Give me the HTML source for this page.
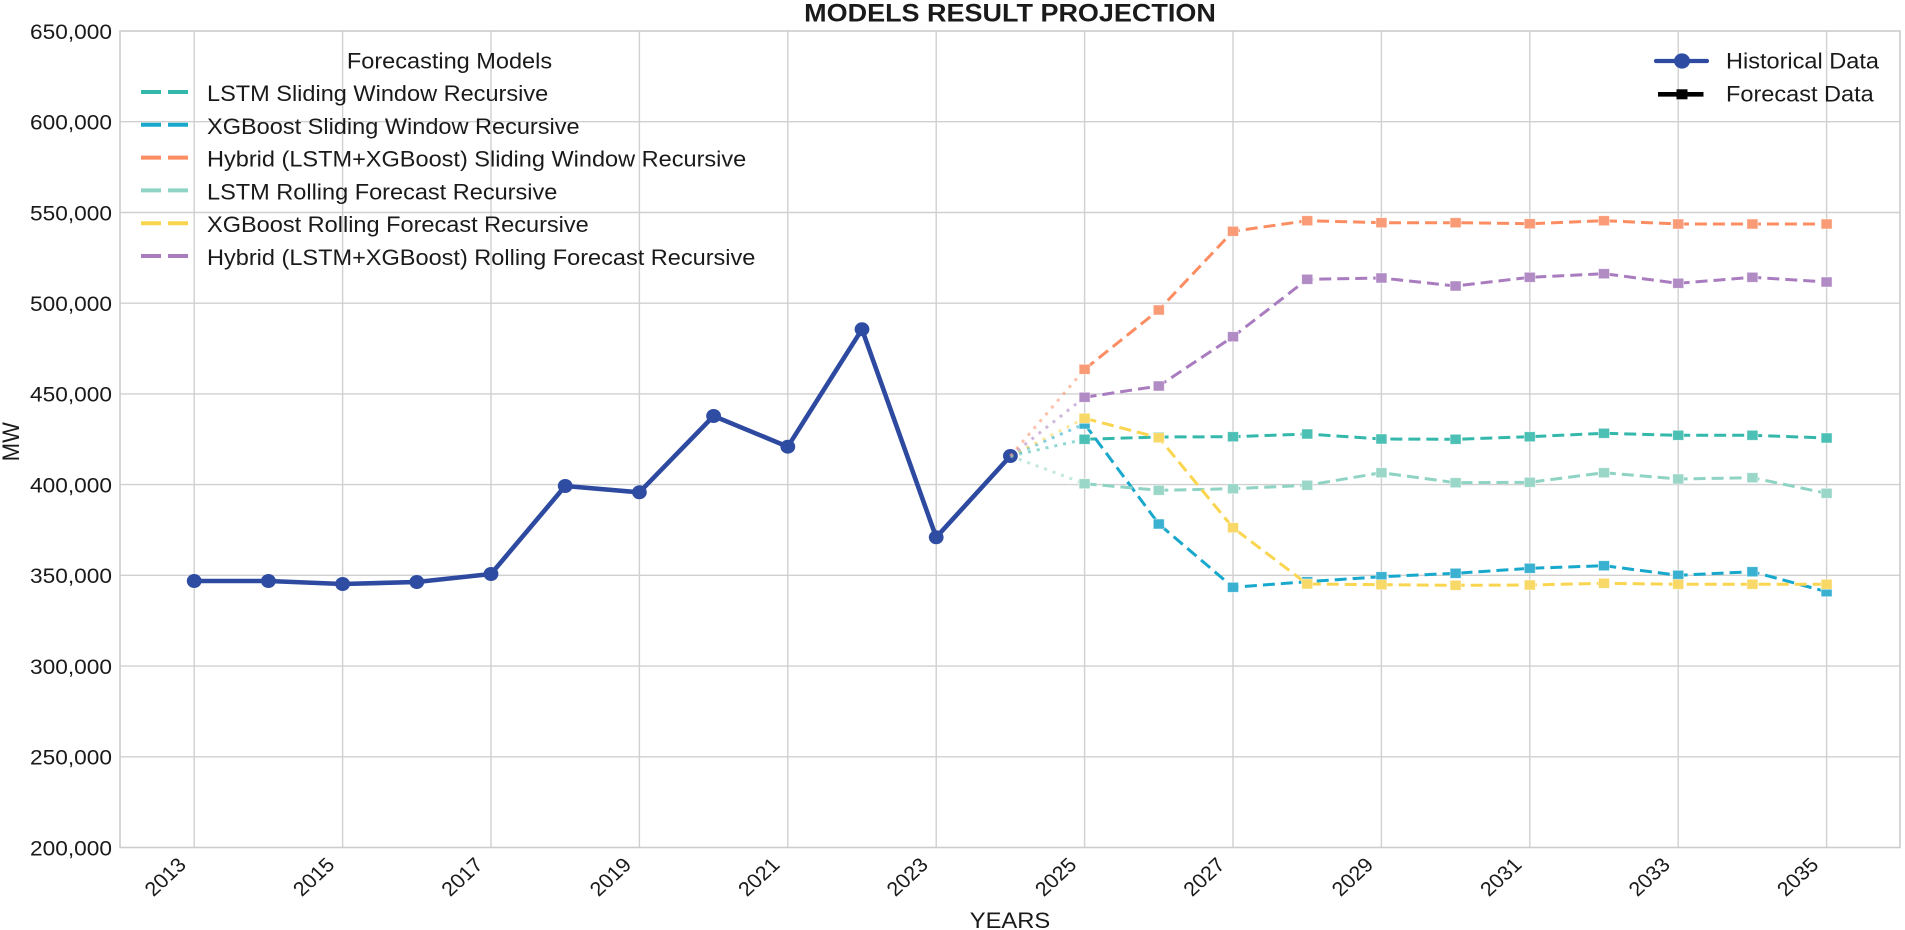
<!DOCTYPE html>
<html>
<head>
<meta charset="utf-8">
<style>
html,body{margin:0;padding:0;background:#fff;}
svg{display:block;}
text{font-family:"Liberation Sans",Arial,sans-serif;fill:#1a1a1a;}
</style>
</head>
<body>
<svg width="1905" height="930" viewBox="0 0 1905 930" xmlns="http://www.w3.org/2000/svg">
<defs>
<rect id="sq" x="-5.5" y="-5" width="11" height="10"/>
</defs>
<rect x="0" y="0" width="1905" height="930" fill="#fff"/>

<!-- grid -->
<g stroke="#d0d0d0" stroke-width="1.4">
<line x1="120" y1="756.8" x2="1900" y2="756.8"/>
<line x1="120" y1="666.1" x2="1900" y2="666.1"/>
<line x1="120" y1="575.3" x2="1900" y2="575.3"/>
<line x1="120" y1="484.6" x2="1900" y2="484.6"/>
<line x1="120" y1="393.9" x2="1900" y2="393.9"/>
<line x1="120" y1="303.2" x2="1900" y2="303.2"/>
<line x1="120" y1="212.5" x2="1900" y2="212.5"/>
<line x1="120" y1="121.7" x2="1900" y2="121.7"/>
<line x1="194.2" y1="31" x2="194.2" y2="847.5"/>
<line x1="342.6" y1="31" x2="342.6" y2="847.5"/>
<line x1="491" y1="31" x2="491" y2="847.5"/>
<line x1="639.4" y1="31" x2="639.4" y2="847.5"/>
<line x1="787.8" y1="31" x2="787.8" y2="847.5"/>
<line x1="936.2" y1="31" x2="936.2" y2="847.5"/>
<line x1="1084.6" y1="31" x2="1084.6" y2="847.5"/>
<line x1="1233" y1="31" x2="1233" y2="847.5"/>
<line x1="1381.4" y1="31" x2="1381.4" y2="847.5"/>
<line x1="1529.8" y1="31" x2="1529.8" y2="847.5"/>
<line x1="1678.2" y1="31" x2="1678.2" y2="847.5"/>
<line x1="1826.6" y1="31" x2="1826.6" y2="847.5"/>
</g>
<rect x="120" y="31" width="1780" height="816.5" fill="none" stroke="#cccccc" stroke-width="1.6"/>

<!-- y tick labels -->
<g font-size="21" text-anchor="end">
<text transform="translate(112,855.3) scale(1.08,1)">200,000</text>
<text transform="translate(112,764.6) scale(1.08,1)">250,000</text>
<text transform="translate(112,673.9) scale(1.08,1)">300,000</text>
<text transform="translate(112,583.1) scale(1.08,1)">350,000</text>
<text transform="translate(112,492.4) scale(1.08,1)">400,000</text>
<text transform="translate(112,401.7) scale(1.08,1)">450,000</text>
<text transform="translate(112,311) scale(1.08,1)">500,000</text>
<text transform="translate(112,220.3) scale(1.08,1)">550,000</text>
<text transform="translate(112,129.5) scale(1.08,1)">600,000</text>
<text transform="translate(112,38.8) scale(1.08,1)">650,000</text>
</g>

<!-- x tick labels -->
<g font-size="20" text-anchor="end">
<text transform="translate(187.4,866) scale(1.08,1) rotate(-45)">2013</text>
<text transform="translate(335.8,866) scale(1.08,1) rotate(-45)">2015</text>
<text transform="translate(484.2,866) scale(1.08,1) rotate(-45)">2017</text>
<text transform="translate(632.6,866) scale(1.08,1) rotate(-45)">2019</text>
<text transform="translate(781,866) scale(1.08,1) rotate(-45)">2021</text>
<text transform="translate(929.4,866) scale(1.08,1) rotate(-45)">2023</text>
<text transform="translate(1077.8,866) scale(1.08,1) rotate(-45)">2025</text>
<text transform="translate(1226.2,866) scale(1.08,1) rotate(-45)">2027</text>
<text transform="translate(1374.6,866) scale(1.08,1) rotate(-45)">2029</text>
<text transform="translate(1523,866) scale(1.08,1) rotate(-45)">2031</text>
<text transform="translate(1671.4,866) scale(1.08,1) rotate(-45)">2033</text>
<text transform="translate(1819.8,866) scale(1.08,1) rotate(-45)">2035</text>
</g>

<!-- axis labels and title -->
<text font-size="22" text-anchor="middle" transform="translate(1010,928) scale(1.08,1)">YEARS</text>
<text font-size="22" text-anchor="middle" transform="translate(19,441.7) scale(1.08,1) rotate(-90)">MW</text>
<text font-size="25" font-weight="bold" text-anchor="middle" transform="translate(1010,21.5) scale(1.08,1)">MODELS RESULT PROJECTION</text>

<!-- historical -->
<polyline fill="none" stroke="#2d4aa0" stroke-width="4.6" stroke-linejoin="round" points="194.2,581 268.4,581 342.6,584 416.8,582 491,574 565.2,486 639.4,492.3 713.6,416 787.8,446.7 862,329.3 936.2,537.3 1010.4,456"/>
<g fill="#2f4ca3">
<ellipse cx="194.2" cy="581" rx="7.4" ry="7"/>
<ellipse cx="268.4" cy="581" rx="7.4" ry="7"/>
<ellipse cx="342.6" cy="584" rx="7.4" ry="7"/>
<ellipse cx="416.8" cy="582" rx="7.4" ry="7"/>
<ellipse cx="491" cy="574" rx="7.4" ry="7"/>
<ellipse cx="565.2" cy="486" rx="7.4" ry="7"/>
<ellipse cx="639.4" cy="492.3" rx="7.4" ry="7"/>
<ellipse cx="713.6" cy="416" rx="7.4" ry="7"/>
<ellipse cx="787.8" cy="446.7" rx="7.4" ry="7"/>
<ellipse cx="862" cy="329.3" rx="7.4" ry="7"/>
<ellipse cx="936.2" cy="537.3" rx="7.4" ry="7"/>
<ellipse cx="1010.4" cy="456" rx="7.4" ry="7"/>
</g>

<!-- connectors -->
<g stroke-opacity="0.55" stroke-width="3" stroke-dasharray="3 6" fill="none">
<line x1="1010.4" y1="456" x2="1084.6" y2="439.3" stroke="#35b8ac"/>
<line x1="1010.4" y1="456" x2="1084.6" y2="424" stroke="#17a8cc"/>
<line x1="1010.4" y1="456" x2="1084.6" y2="369.3" stroke="#fc8d62"/>
<line x1="1010.4" y1="456" x2="1084.6" y2="483.7" stroke="#8ed3c3"/>
<line x1="1010.4" y1="456" x2="1084.6" y2="418.3" stroke="#fad54f"/>
<line x1="1010.4" y1="456" x2="1084.6" y2="397.3" stroke="#a97cbf"/>
</g>

<!-- LSTM Sliding Window (teal) -->
<polyline fill="none" stroke="#35b8ac" stroke-width="3" stroke-dasharray="12 6" points="1084.6,439.3 1158.8,437 1233,436.7 1307.2,434 1381.4,439 1455.6,439.3 1529.8,436.7 1604,433.3 1678.2,435.3 1752.4,435.3 1826.6,438"/>
<g fill="#4dc0b5" stroke="#fff" stroke-width="0.8" stroke-opacity="0.6">
<use href="#sq" x="1084.6" y="439.3"/><use href="#sq" x="1158.8" y="437"/><use href="#sq" x="1233" y="436.7"/><use href="#sq" x="1307.2" y="434"/><use href="#sq" x="1381.4" y="439"/><use href="#sq" x="1455.6" y="439.3"/><use href="#sq" x="1529.8" y="436.7"/><use href="#sq" x="1604" y="433.3"/><use href="#sq" x="1678.2" y="435.3"/><use href="#sq" x="1752.4" y="435.3"/><use href="#sq" x="1826.6" y="438"/>
</g>

<!-- XGBoost Sliding Window (blue) -->
<polyline fill="none" stroke="#17a8cc" stroke-width="3" stroke-dasharray="12 6" points="1084.6,424 1158.8,524 1233,587.3 1307.2,581.7 1381.4,576.7 1455.6,573.3 1529.8,568.3 1604,565.7 1678.2,575.3 1752.4,571.7 1826.6,591.7"/>
<g fill="#3bb1d2" stroke="#fff" stroke-width="0.8" stroke-opacity="0.6">
<use href="#sq" x="1084.6" y="424"/><use href="#sq" x="1158.8" y="524"/><use href="#sq" x="1233" y="587.3"/><use href="#sq" x="1307.2" y="581.7"/><use href="#sq" x="1381.4" y="576.7"/><use href="#sq" x="1455.6" y="573.3"/><use href="#sq" x="1529.8" y="568.3"/><use href="#sq" x="1604" y="565.7"/><use href="#sq" x="1678.2" y="575.3"/><use href="#sq" x="1752.4" y="571.7"/><use href="#sq" x="1826.6" y="591.7"/>
</g>

<!-- Hybrid Sliding Window (orange) -->
<polyline fill="none" stroke="#fc8d62" stroke-width="3" stroke-dasharray="12 6" points="1084.6,369.3 1158.8,310 1233,231.3 1307.2,220.7 1381.4,222.7 1455.6,222.7 1529.8,223.7 1604,220.7 1678.2,224 1752.4,224 1826.6,224"/>
<g fill="#f99b76" stroke="#fff" stroke-width="0.8" stroke-opacity="0.6">
<use href="#sq" x="1084.6" y="369.3"/><use href="#sq" x="1158.8" y="310"/><use href="#sq" x="1233" y="231.3"/><use href="#sq" x="1307.2" y="220.7"/><use href="#sq" x="1381.4" y="222.7"/><use href="#sq" x="1455.6" y="222.7"/><use href="#sq" x="1529.8" y="223.7"/><use href="#sq" x="1604" y="220.7"/><use href="#sq" x="1678.2" y="224"/><use href="#sq" x="1752.4" y="224"/><use href="#sq" x="1826.6" y="224"/>
</g>

<!-- LSTM Rolling (light green) -->
<polyline fill="none" stroke="#8ed3c3" stroke-width="3" stroke-dasharray="12 6" points="1084.6,483.7 1158.8,490.3 1233,488.7 1307.2,485.3 1381.4,472.7 1455.6,482.7 1529.8,482.3 1604,472.7 1678.2,479 1752.4,477.7 1826.6,493.3"/>
<g fill="#9bd7c8" stroke="#fff" stroke-width="0.8" stroke-opacity="0.6">
<use href="#sq" x="1084.6" y="483.7"/><use href="#sq" x="1158.8" y="490.3"/><use href="#sq" x="1233" y="488.7"/><use href="#sq" x="1307.2" y="485.3"/><use href="#sq" x="1381.4" y="472.7"/><use href="#sq" x="1455.6" y="482.7"/><use href="#sq" x="1529.8" y="482.3"/><use href="#sq" x="1604" y="472.7"/><use href="#sq" x="1678.2" y="479"/><use href="#sq" x="1752.4" y="477.7"/><use href="#sq" x="1826.6" y="493.3"/>
</g>

<!-- XGBoost Rolling (yellow) -->
<polyline fill="none" stroke="#fad54f" stroke-width="3" stroke-dasharray="12 6" points="1084.6,418.3 1158.8,437.7 1233,527.7 1307.2,584 1381.4,584.7 1455.6,585.3 1529.8,585 1604,583.3 1678.2,584.3 1752.4,584.3 1826.6,584.3"/>
<g fill="#f8d866" stroke="#fff" stroke-width="0.8" stroke-opacity="0.6">
<use href="#sq" x="1084.6" y="418.3"/><use href="#sq" x="1158.8" y="437.7"/><use href="#sq" x="1233" y="527.7"/><use href="#sq" x="1307.2" y="584"/><use href="#sq" x="1381.4" y="584.7"/><use href="#sq" x="1455.6" y="585.3"/><use href="#sq" x="1529.8" y="585"/><use href="#sq" x="1604" y="583.3"/><use href="#sq" x="1678.2" y="584.3"/><use href="#sq" x="1752.4" y="584.3"/><use href="#sq" x="1826.6" y="584.3"/>
</g>

<!-- Hybrid Rolling (purple) -->
<polyline fill="none" stroke="#a97cbf" stroke-width="3" stroke-dasharray="12 6" points="1084.6,397.3 1158.8,386 1233,336.7 1307.2,279.3 1381.4,278 1455.6,286 1529.8,277.3 1604,273.7 1678.2,283.3 1752.4,277.3 1826.6,282"/>
<g fill="#b08bc4" stroke="#fff" stroke-width="0.8" stroke-opacity="0.6">
<use href="#sq" x="1084.6" y="397.3"/><use href="#sq" x="1158.8" y="386"/><use href="#sq" x="1233" y="336.7"/><use href="#sq" x="1307.2" y="279.3"/><use href="#sq" x="1381.4" y="278"/><use href="#sq" x="1455.6" y="286"/><use href="#sq" x="1529.8" y="277.3"/><use href="#sq" x="1604" y="273.7"/><use href="#sq" x="1678.2" y="283.3"/><use href="#sq" x="1752.4" y="277.3"/><use href="#sq" x="1826.6" y="282"/>
</g>

<!-- Left legend -->
<text font-size="22" text-anchor="middle" transform="translate(449.5,68.3) scale(1.07,1)">Forecasting Models</text>
<g stroke-width="4" stroke-dasharray="20 7">
<line x1="141" y1="92" x2="188" y2="92" stroke="#35b8ac"/>
<line x1="141" y1="124.8" x2="188" y2="124.8" stroke="#17a8cc"/>
<line x1="141" y1="157.6" x2="188" y2="157.6" stroke="#fc8d62"/>
<line x1="141" y1="190.4" x2="188" y2="190.4" stroke="#8ed3c3"/>
<line x1="141" y1="223.2" x2="188" y2="223.2" stroke="#fad54f"/>
<line x1="141" y1="256" x2="188" y2="256" stroke="#a97cbf"/>
</g>
<g font-size="22">
<text transform="translate(207,101) scale(1.07,1)">LSTM Sliding Window Recursive</text>
<text transform="translate(207,133.8) scale(1.07,1)">XGBoost Sliding Window Recursive</text>
<text transform="translate(207,166.6) scale(1.07,1)">Hybrid (LSTM+XGBoost) Sliding Window Recursive</text>
<text transform="translate(207,199.4) scale(1.07,1)">LSTM Rolling Forecast Recursive</text>
<text transform="translate(207,232.2) scale(1.07,1)">XGBoost Rolling Forecast Recursive</text>
<text transform="translate(207,265) scale(1.07,1)">Hybrid (LSTM+XGBoost) Rolling Forecast Recursive</text>
</g>

<!-- Right legend -->
<line x1="1656" y1="61" x2="1707" y2="61" stroke="#2d4aa0" stroke-width="4.2" stroke-linecap="round"/>
<ellipse cx="1682" cy="61" rx="8" ry="7.6" fill="#2f4ca3"/>
<line x1="1658" y1="94.3" x2="1703.5" y2="94.3" stroke="#000" stroke-width="4.6"/>
<rect x="1676.5" y="89.3" width="11" height="10" fill="#000"/>
<g font-size="22">
<text transform="translate(1726,68.3) scale(1.07,1)">Historical Data</text>
<text transform="translate(1726,101.7) scale(1.07,1)">Forecast Data</text>
</g>
</svg>
</body>
</html>
